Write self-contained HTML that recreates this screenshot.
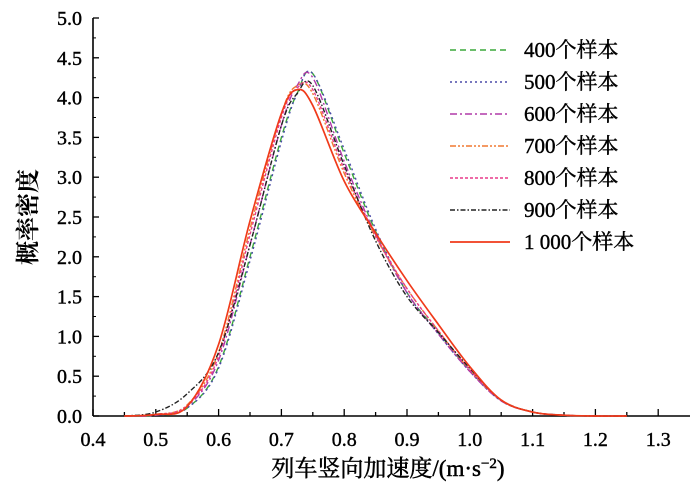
<!DOCTYPE html>
<html><head><meta charset="utf-8"><style>
body{margin:0;background:#fff}
svg{display:block;font-family:"Liberation Serif","Noto Serif CJK SC",serif}
</style></head><body>
<svg id="c" width="700" height="493"></svg>
<script>
const xVals=[0.45,0.5,0.55,0.6,0.65,0.7,0.725,0.75,0.8,0.85,0.9,0.95,1.0,1.05,1.1,1.15,1.2,1.25];
const s400=[0,0.01,0.1,0.62,2.0,3.5,4.05,4.3,3.3,2.32,1.55,1.05,0.57,0.2,0.05,0.01,0,0];
const s500=[0,0.01,0.1,0.6,1.95,3.45,4.05,4.3,3.35,2.35,1.55,1.03,0.56,0.19,0.05,0.01,0,0];
const s600=[0,0.01,0.12,0.7,2.15,3.65,4.15,4.25,3.2,2.28,1.55,1.03,0.56,0.19,0.05,0.01,0,0];
const s700=[0,0.02,0.14,0.8,2.35,3.8,4.15,4.05,3.05,2.25,1.6,1.07,0.58,0.2,0.05,0.01,0,0];
const s800=[0,0.02,0.13,0.75,2.28,3.75,4.12,4.1,3.1,2.27,1.6,1.07,0.58,0.2,0.05,0.01,0,0];
const s900=[0,0.05,0.28,0.8,2.15,3.65,4.05,4.15,3.15,2.2,1.5,1.05,0.6,0.2,0.05,0.01,0,0];
const s1000=[0,0.02,0.12,0.9,2.45,3.8,4.1,3.9,2.95,2.3,1.7,1.15,0.62,0.2,0.05,0.01,0,0];
const xTicks=[0.4,0.5,0.6,0.7,0.8,0.9,1.0,1.1,1.2,1.3];
const yTicks=[0,0.5,1,1.5,2,2.5,3,3.5,4,4.5,5];
const series=[
 {name:"400个样本",d:s400,c:"#3aa83a",dash:"6,4"},
 {name:"500个样本",d:s500,c:"#4a4aa8",dash:"2,3"},
 {name:"600个样本",d:s600,c:"#b03aa8",dash:"7,3,2,3"},
 {name:"700个样本",d:s700,c:"#f07830",dash:"6,2,2,2,2,2"},
 {name:"800个样本",d:s800,c:"#e83a8a",dash:"3,2"},
 {name:"900个样本",d:s900,c:"#222",dash:"5,2,1.5,2"},
 {name:"1 000个样本",d:s1000,c:"#f03a1a",dash:""}
];
const X0=93,Y0=416,PX=628,PY=79.6;
const sx=v=>X0+(v-0.4)*PX, sy=v=>Y0-v*PY;
const svg=document.getElementById('c'),NS="http://www.w3.org/2000/svg";
function mk(t,a,p){const e=document.createElementNS(NS,t);for(const k in a)e.setAttribute(k,a[k]);(p||svg).appendChild(e);return e;}
let e=mk('line',{x1:X0,y1:Y0,x2:690,y2:Y0,stroke:"#000","stroke-width":1.6});

e=mk('line',{x1:X0,y1:Y0,x2:X0,y2:sy(5),stroke:"#000","stroke-width":1.6});

for(let i=0;i<19;i++){const v=0.4+i*0.05,x=sx(v);
 mk('line',{x1:x,y1:Y0,x2:x,y2:Y0-(i%2?4:7),stroke:"#000","stroke-width":1.3});}
xTicks.forEach(v=>{const t=mk('text',{x:sx(v),y:446,"font-size":20,"text-anchor":"middle",stroke:"#000","stroke-width":0.4});t.textContent=v.toFixed(1);
 });
yTicks.forEach((v,i)=>{const y=sy(v);mk('line',{x1:X0,y1:y,x2:X0+6,y2:y,stroke:"#000","stroke-width":1.3});
 if(i<10)mk('line',{x1:X0,y1:sy(v+0.25),x2:X0+3,y2:sy(v+0.25),stroke:"#000","stroke-width":1});
 const t=mk('text',{x:82,y:y+7,"font-size":20,"text-anchor":"end",stroke:"#000","stroke-width":0.4});t.textContent=v.toFixed(1);
 });
function path(d){const p=xVals.map((x,i)=>[sx(x),sy(d[i])]);let s="M"+p[0][0]+","+p[0][1];
 for(let i=0;i<p.length-1;i++){const a=p[Math.max(0,i-1)],b=p[i],c=p[i+1],q=p[Math.min(p.length-1,i+2)];
  s+=` C${b[0]+(c[0]-a[0])/6},${b[1]+(c[1]-a[1])/6} ${c[0]-(q[0]-b[0])/6},${c[1]-(q[1]-b[1])/6} ${c[0]},${c[1]}`;}return s;}
series.forEach((s,i)=>{
 const p=mk('path',{d:path(s.d),fill:"none",stroke:s.c,"stroke-width":s.dash?1.4:1.7,"stroke-dasharray":s.dash});
 
 const y=50+i*32;
 const l=mk('line',{x1:450,y1:y,x2:510,y2:y,stroke:s.c,"stroke-width":s.dash?1.4:1.7,"stroke-dasharray":s.dash});
 
 const t=mk('text',{x:524,y:y+7,"font-size":21,stroke:"#000","stroke-width":0.4});t.textContent=s.name;
 
});
let t=mk('text',{x:388,y:476,"font-size":23,"text-anchor":"middle",stroke:"#000","stroke-width":0.5});
t.innerHTML='列车竖向加速度/(m·s<tspan dy="-8" font-size="15">−2</tspan><tspan dy="8">)</tspan>';

t=mk('text',{x:0,y:0,"font-size":24,"font-weight":"bold","text-anchor":"middle",transform:"translate(36,217) rotate(-90)"});
t.textContent="概率密度";

</script>
</body></html>
